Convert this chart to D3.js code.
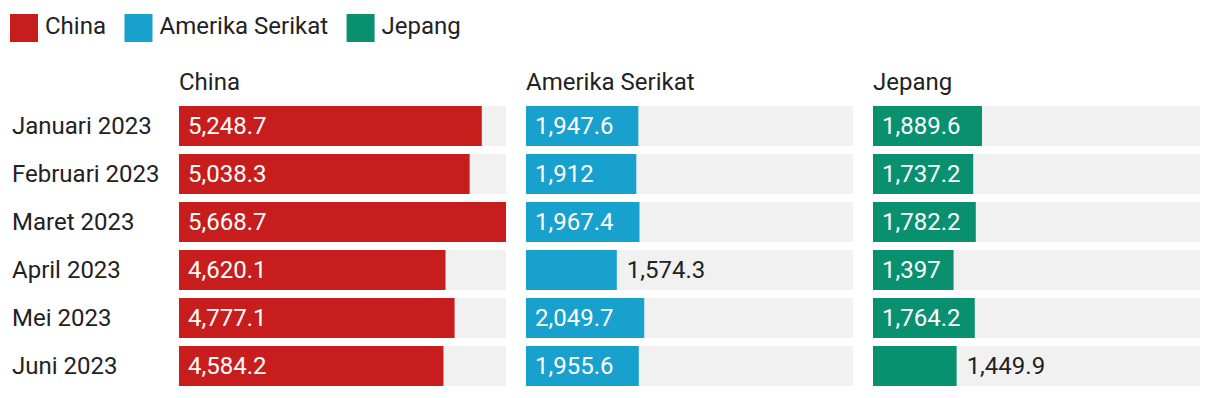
<!DOCTYPE html>
<html><head><meta charset="utf-8">
<script src="https://cdn.jsdelivr.net/npm/d3@7"></script>
<style>
html,body{margin:0;padding:0;background:#fff;}
svg{display:block;font-family:Roboto, "Noto Sans", sans-serif;}
</style></head>
<body><svg id="c" width="1220" height="398"></svg>
<script>
const months = ["Januari 2023","Februari 2023","Maret 2023","April 2023","Mei 2023","Juni 2023"];
const seriesNames = ["China","Amerika Serikat","Jepang"];
const seriesColors = ["#c71e1d","#18a1cd","#09916f"];
const china = [5248.7,5038.3,5668.7,4620.1,4777.1,4584.2];
const amerika = [1947.6,1912,1967.4,1574.3,2049.7,1955.6];
const jepang = [1889.6,1737.2,1782.2,1397,1764.2,1449.9];
const seriesValues = [china, amerika, jepang];

const svg = d3.select("#c");
const fs = 24;
const fmt = v => d3.format(",")(v);

// legend
let lx = 10;
const legend = svg.append("g");
seriesNames.forEach((n,i)=>{
  legend.append("rect").attr("x",lx).attr("y",14).attr("width",28).attr("height",28).attr("fill",seriesColors[i]);
  const t = legend.append("text").attr("x",lx+35).attr("y",33.5).attr("font-size",fs).attr("fill","#222").text(n);
  lx += 35 + t.node().getComputedTextLength() + 18.5;
});

const left = 179, right = 1200, gap = 20;
const pw = (right-left-2*gap)/3;
const y2 = d3.scaleBand().domain(months).range([106, 106+48*6-8]).paddingInner(8/48).paddingOuter(0);
const maxV = d3.max(seriesValues.flat());
const x = d3.scaleLinear().domain([0,maxV]).range([0,pw]);

// row labels
svg.append("g").selectAll("text").data(months).join("text")
  .attr("x",12).attr("y",d=>y2(d)+y2.bandwidth()/2+7.7)
  .attr("font-size",fs).attr("fill","#222").text(d=>d);

seriesNames.forEach((n,i)=>{
  const x0 = left + i*(pw+gap);
  const g = svg.append("g").attr("transform",`translate(${x0},0)`);
  g.append("text").attr("x",0).attr("y",90).attr("font-size",fs).attr("fill","#222").text(n);
  const rows = g.selectAll("g.r").data(months.map((m,j)=>({m,v:seriesValues[i][j]}))).join("g").attr("class","r");
  rows.append("rect").attr("x",0).attr("y",d=>y2(d.m)).attr("width",pw).attr("height",y2.bandwidth()).attr("fill","#f1f1f1");
  rows.append("rect").attr("x",0).attr("y",d=>y2(d.m)).attr("width",d=>x(d.v)).attr("height",y2.bandwidth()).attr("fill",seriesColors[i]);
  rows.each(function(d){
    const t = d3.select(this).append("text").attr("y",y2(d.m)+y2.bandwidth()/2+7.7).attr("font-size",fs).text(fmt(d.v));
    const w = t.node().getComputedTextLength();
    if (w + 20 <= x(d.v)) t.attr("x",9).attr("fill","#fff");
    else t.attr("x",x(d.v)+10).attr("fill","#222");
  });
});
</script></body></html>
